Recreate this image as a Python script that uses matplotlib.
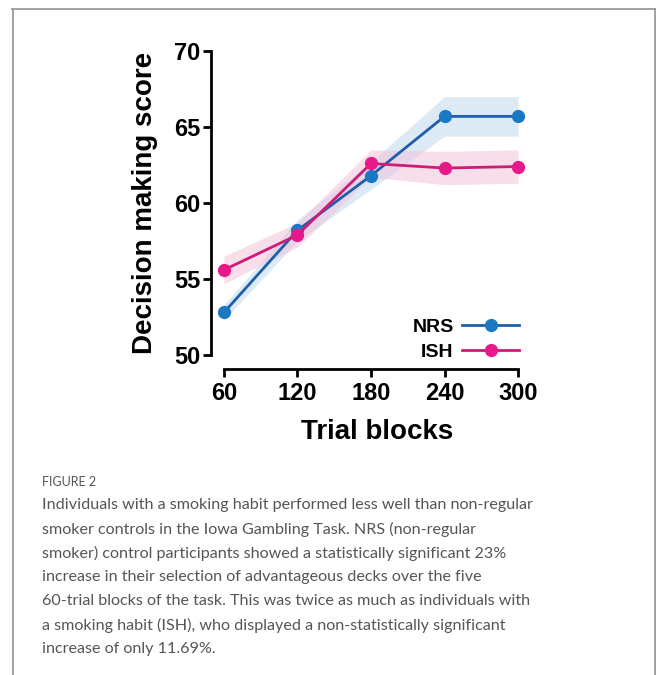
import numpy as np
import matplotlib
matplotlib.use("Agg")
import matplotlib.pyplot as plt
from matplotlib.lines import Line2D

# values
blocks = [60, 120, 180, 240, 300]
nrs_mean = [52.8, 58.2, 61.8, 65.7, 65.7]
nrs_err = [0.5, 0.7, 0.9, 1.3, 1.3]
ish_mean = [55.6, 57.9, 62.6, 62.3, 62.4]
ish_err = [0.9, 0.8, 0.9, 1.1, 1.1]
yticks = [50, 55, 60, 65, 70]

caption_head = "FIGURE 2"
caption_lines = [
    "Individuals with a smoking habit performed less well than non-regular",
    "smoker controls in the Iowa Gambling Task. NRS (non-regular",
    "smoker) control participants showed a statistically significant 23%",
    "increase in their selection of advantageous decks over the five",
    "60-trial blocks of the task. This was twice as much as individuals with",
    "a smoking habit (ISH), who displayed a non-statistically significant",
    "increase of only 11.69%.",
]

nrs_color = "#1f5ea8"
nrs_mark = "#1b78c2"
ish_color = "#cf1b78"
ish_mark = "#e8188a"

plt.rcParams['font.family'] = ['Liberation Sans', 'DejaVu Sans']

fig = plt.figure(figsize=(6.56, 6.75), dpi=100)
ax = fig.add_axes([0.3216, 0.4533, 0.4718, 0.4824])

x = np.array(blocks)
nm, ne = np.array(nrs_mean), np.array(nrs_err)
im, ie = np.array(ish_mean), np.array(ish_err)

ax.fill_between(x, nm - ne, nm + ne, color="#c5dcf0", alpha=0.6, lw=0)
ax.fill_between(x, im - ie, im + ie, color="#f2bfd9", alpha=0.5, lw=0)
ax.plot(x, nm, '-', color=nrs_color, lw=2, marker='o', ms=8.5,
        mfc=nrs_mark, mec=nrs_mark, label="NRS", clip_on=False, zorder=3)
ax.plot(x, im, '-', color=ish_color, lw=2, marker='o', ms=8.5,
        mfc=ish_mark, mec=ish_mark, label="ISH", clip_on=False, zorder=4)

ax.set_xlim(49.4, 302)
ax.set_ylim(49.08, 70.5)
ax.set_xticks(blocks)
ax.set_yticks(yticks)
ax.spines['top'].set_visible(False)
ax.spines['right'].set_visible(False)
ax.spines['left'].set_bounds(50, 70)
ax.spines['bottom'].set_bounds(60, 300)
for s in ('left', 'bottom'):
    ax.spines[s].set_linewidth(2)
ax.tick_params(axis='both', width=2, length=5.5, labelsize=17)
ax.tick_params(axis='y', pad=2)
ax.tick_params(axis='x', pad=4)
for lab in ax.get_xticklabels() + ax.get_yticklabels():
    lab.set_fontweight('bold')

ax.set_ylabel("Decision making score", fontsize=20, fontweight='bold')
ax.yaxis.set_label_coords(-0.172, 0.51)
ax.set_xlabel("Trial blocks", fontsize=20, fontweight='bold')
ax.xaxis.set_label_coords(0.538, -0.152)

leg = ax.legend(loc='lower right', bbox_to_anchor=(1.02, 0.0), frameon=False,
                markerfirst=False, handlelength=2.9, fontsize=14,
                labelspacing=0.38, handletextpad=0.45, borderaxespad=0)
for t in leg.get_texts():
    t.set_fontweight('bold')

# frame around figure
fc = "#9a9a9a"
fig.add_artist(Line2D([12/656, 655/656], [1 - 9/675, 1 - 9/675], color=fc, lw=1.3))
fig.add_artist(Line2D([13/656, 13/656], [0, 1 - 9/675], color=fc, lw=1.3))
fig.add_artist(Line2D([655/656, 655/656], [0, 1 - 9/675], color=fc, lw=1.3))

fig.text(42/656, 1 - 482/675, caption_head, fontsize=9, color="#555555",
         family=['Lato', 'DejaVu Sans'], va='center')
for i, line in enumerate(caption_lines):
    fig.text(42/656, 1 - (505 + 24 * i)/675, line, fontsize=11.6, color="#555555",
             family=['Lato', 'DejaVu Sans'], va='center')

fig.savefig("out.png", dpi=100)
